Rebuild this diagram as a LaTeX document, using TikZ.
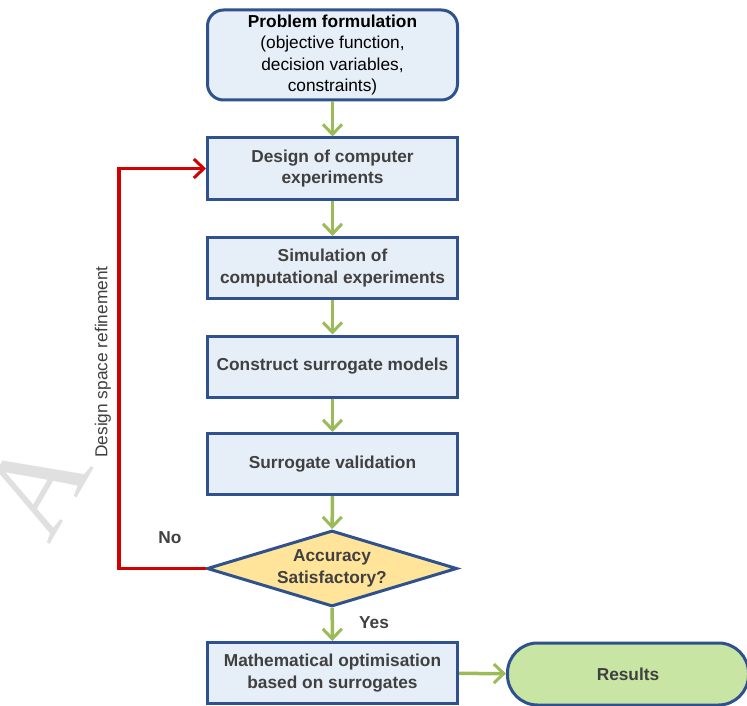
\documentclass[tikz,border=0pt]{standalone}
\usepackage{fontspec}
\setmainfont{Liberation Sans}
\newfontfamily\wmfont{Liberation Serif}
\usetikzlibrary{shapes.geometric,arrows.meta}
\definecolor{boxfill}{RGB}{230,238,248}
\definecolor{bordc}{RGB}{47,82,143}
\definecolor{dfill}{RGB}{255,228,153}
\definecolor{rfill}{RGB}{200,229,164}
\definecolor{arrg}{RGB}{155,187,89}
\definecolor{arrr}{RGB}{210,0,0}
\definecolor{txt}{RGB}{64,64,64}
\begin{document}
\begin{tikzpicture}[x=1pt,y=-1pt,
  box/.style={draw=bordc, line width=3pt, fill=boxfill, minimum width=250pt, minimum height=61pt,
    inner sep=2pt, align=center, font=\fontsize{17.3}{21.5}\selectfont\bfseries, text=txt},
  garrow/.style={draw=arrg, line width=3.5pt, -{Straight Barb[length=10pt,width=19pt,line width=3pt]}},
  rarrow/.style={draw=arrr, line width=3.5pt, -{Straight Barb[length=10pt,width=19pt,line width=3pt]}},
  lbl/.style={font=\fontsize{17.3}{21}\selectfont\bfseries, text=txt}]
\useasboundingbox (0,0) rectangle (747,706);
% watermark
\node[rotate=60, text=black!12, font=\wmfont\fontsize{125}{125}\selectfont, inner sep=0pt] (wm) at (36,486) {A};
% nodes
\node[box, rounded corners=16pt, minimum height=90pt, text=black, font=\fontsize{17.3}{21.5}\selectfont] (b1) at (332.5,55)
  {\textbf{Problem formulation}\\(objective function,\\decision variables,\\constraints)};
\node[box] (b2) at (332.5,168.5) {Design of computer\\experiments};
\node[box] (b3) at (332.5,268) {Simulation of\\computational experiments};
\node[box] (b4) at (332.5,366.5) {Construct surrogate models};
\node[box] (b5) at (332.5,464) {Surrogate validation};
\node[diamond, draw=bordc, line width=3pt, fill=dfill, minimum width=250pt, minimum height=76pt, aspect=3.3,
  inner sep=0pt, align=center, font=\fontsize{17.3}{21.5}\selectfont\bfseries, text=txt] (d) at (332,568.5)
  {Accuracy\\Satisfactory?};
\node[box] (b7) at (332.5,673) {Mathematical optimisation\\based on surrogates};
\node[box, fill=rfill, rounded corners=30pt, minimum width=241pt, minimum height=62pt] (res) at (628,674) {Results};
% connectors
\draw[garrow] (b1) -- (b2);
\draw[garrow] (b2) -- (b3);
\draw[garrow] (b3) -- (b4);
\draw[garrow] (b4) -- (b5);
\draw[garrow] (b5) -- (d);
\draw[garrow] (d) -- (b7);
\draw[garrow] (b7) -- (res);
\coordinate (rx) at (119,366);
\draw[rarrow] (d.west) -| (rx) |- (b2.west);
% labels
\node[lbl] (no) at (170,538) {No};
\node[lbl] (yes) at (374,623) {Yes};
\node[rotate=90, font=\fontsize{17.3}{21}\selectfont, text=txt] (dsr) at (103,362) {Design space refinement};
\end{tikzpicture}
\end{document}
